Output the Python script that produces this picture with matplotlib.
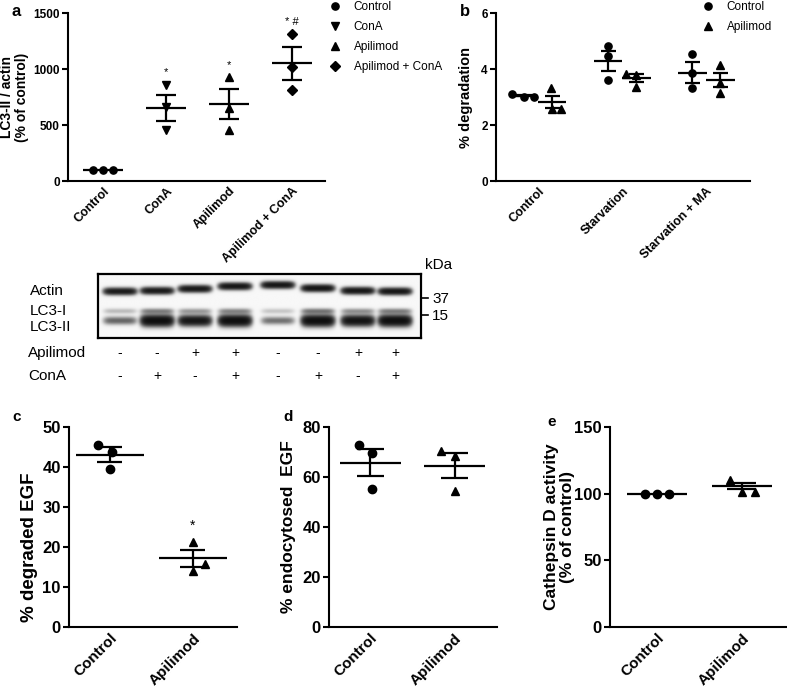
import numpy as np
import matplotlib.pyplot as plt
from matplotlib.lines import Line2D

plt.rcParams['font.family'] = ['Liberation Sans', 'DejaVu Sans']
plt.rcParams['font.weight'] = 'bold'
plt.rcParams['axes.labelweight'] = 'bold'
plt.rcParams['axes.linewidth'] = 1.5
plt.rcParams['ytick.major.width'] = 1.5
plt.rcParams['ytick.major.size'] = 4

W, H = 787, 688

# ---------------- data ----------------
# a: LC3-II / actin (% of control)
a_groups = ['Control', 'ConA', 'Apilimod', 'Apilimod + ConA']
a_points = [[100, 100, 100], [857, 664, 457], [925, 649, 457], [1310, 1020, 812]]
a_mean = [100, 652, 685, 1051]
a_sem = [0, 115, 133, 147]
a_sig = ['', '*', '*', '* #']

# b: % degradation
b_groups = ['Control', 'Starvation', 'Starvation + MA']
b_ctrl_points = [[3.09, 3.01, 3.01], [4.83, 4.48, 3.61], [4.54, 3.85, 3.31]]
b_ctrl_mean = [3.05, 4.28, 3.87]
b_ctrl_sem = [0.03, 0.36, 0.37]
b_api_points = [[3.31, 2.57, 2.57], [3.81, 3.79, 3.37], [4.14, 3.51, 3.13]]
b_api_mean = [2.83, 3.68, 3.60]
b_api_sem = [0.22, 0.15, 0.26]

# c-e: Control vs Apilimod
ce_groups = ['Control', 'Apilimod']
c_points = [[45.6, 43.8, 39.4], [21.25, 15.75, 14.0]]
c_mean = [43.1, 17.2]
c_sem = [1.8, 2.1]
d_points = [[73.0, 69.4, 55.1], [70.3, 68.4, 54.4]]
d_mean = [65.8, 64.5]
d_sem = [5.3, 5.05]
e_points = [[100, 100, 100], [110.3, 101.3, 101.3]]
e_mean = [100, 105.8]
e_sem = [0, 2.3]

# western blot: relative band intensity per lane
lane_pos = [0.068, 0.183, 0.300, 0.424, 0.557, 0.681, 0.805, 0.920]
actin_int = [0.80, 0.80, 0.82, 0.85, 0.85, 0.88, 0.85, 0.85]
actin_row = [0.27, 0.26, 0.23, 0.19, 0.17, 0.22, 0.26, 0.27]
lc3i_int = [0.10, 0.22, 0.16, 0.20, 0.08, 0.25, 0.18, 0.22]
lc3ii_int = [0.32, 1.0, 0.85, 1.0, 0.28, 1.0, 0.90, 1.0]
apilimod_sign = ['-', '-', '+', '+', '-', '-', '+', '+']
cona_sign = ['-', '+', '-', '+', '-', '+', '-', '+']


def box(x0, y0, x1, y1):
    # pixel box -> figure fraction rect
    return [x0 / W, 1 - y1 / H, (x1 - x0) / W, (y1 - y0) / H]


def style(ax, fs, xfs):
    for s in ['top', 'right']:
        ax.spines[s].set_visible(False)
    ax.tick_params(axis='x', length=0, pad=3, labelsize=xfs)
    ax.tick_params(axis='y', labelsize=fs, pad=2)
    plt.setp(ax.get_xticklabels(), rotation=45, ha='right', rotation_mode='anchor')


def draw_group(ax, xc, pts, jit, mean, sem, marker, half_w, cap_w, ms):
    ax.plot(xc + np.array(jit), pts, ls='none', marker=marker, color='k', ms=ms,
            zorder=3, clip_on=False)
    ax.hlines(mean, xc - half_w, xc + half_w, color='k', lw=1.6)
    if sem > 0:
        ax.vlines(xc, mean - sem, mean + sem, color='k', lw=1.6)
        ax.hlines([mean - sem, mean + sem], xc - cap_w, xc + cap_w, color='k', lw=1.6)


fig = plt.figure(figsize=(W / 100, H / 100), dpi=100)

# ---------------- panel a ----------------
ax = fig.add_axes(box(68, 13, 325, 181))
a_markers = ['o', 'v', '^', 'D']
a_jit = [[-0.16, 0, 0.16], [0, 0, 0], [0, 0, 0], [0, 0, 0]]
for i in range(4):
    draw_group(ax, i, a_points[i], a_jit[i], a_mean[i], a_sem[i], a_markers[i],
               0.32, 0.16, 4.6 if a_markers[i] == 'D' else 5.2)
    if a_sig[i]:
        ax.annotate(a_sig[i], (i, max(a_points[i])), xytext=(0, 9), textcoords='offset points',
                    ha='center', va='center', fontsize=8, fontweight='normal')
ax.set_xlim(-0.56, 3.52)
ax.set_ylim(0, 1500)
ax.set_yticks([0, 500, 1000, 1500])
ax.set_xticks(range(4))
ax.set_xticklabels(a_groups)
ax.set_ylabel('LC3-II / actin\n(% of control)', fontsize=10, labelpad=3, linespacing=1.05)
style(ax, 8.5, 9)
handles = [Line2D([], [], ls='none', marker=m, color='k', ms=5.2 if m != 'D' else 4.6)
           for m in a_markers]
ax.legend(handles, a_groups, loc='upper left', bbox_to_anchor=(329 / W, 1 - 1 / H),
          bbox_transform=fig.transFigure, frameon=False, borderpad=0, borderaxespad=0,
          handlelength=1.0, handletextpad=1.1, labelspacing=0.68,
          prop={'size': 8.5, 'weight': 'normal'})
fig.text(12 / W, 1 - 11 / H, 'a', fontsize=12, fontweight='bold', ha='left', va='center')

# ---------------- panel b ----------------
ax = fig.add_axes(box(496, 13, 750, 181))
b_ctrl_jit = [[-0.14, 0, 0.12], [0, 0, 0], [0, 0, 0]]
b_api_jit = [[-0.01, 0, 0.1], [-0.12, 0, 0], [0, 0, 0]]
for i in range(3):
    draw_group(ax, i - 0.167, b_ctrl_points[i], b_ctrl_jit[i], b_ctrl_mean[i], b_ctrl_sem[i],
               'o', 0.17, 0.09, 5.2)
    draw_group(ax, i + 0.167, b_api_points[i], b_api_jit[i], b_api_mean[i], b_api_sem[i],
               '^', 0.17, 0.09, 5.2)
ax.set_xlim(-0.5, 2.52)
ax.set_ylim(0, 6)
ax.set_yticks([0, 2, 4, 6])
ax.set_xticks(range(3))
ax.set_xticklabels(b_groups)
ax.set_ylabel('% degradation', fontsize=10.5, labelpad=6)
style(ax, 8.5, 9)
handles = [Line2D([], [], ls='none', marker=m, color='k', ms=5.2) for m in ['o', '^']]
ax.legend(handles, ['Control', 'Apilimod'], loc='upper left', bbox_to_anchor=(702 / W, 1 - 1 / H),
          bbox_transform=fig.transFigure, frameon=False, borderpad=0, borderaxespad=0,
          handlelength=1.0, handletextpad=1.1, labelspacing=0.68,
          prop={'size': 8.5, 'weight': 'normal'})
fig.text(460 / W, 1 - 11 / H, 'b', fontsize=12, fontweight='bold', ha='left', va='center')

# ---------------- western blot ----------------
ax = fig.add_axes(box(98, 274, 421, 338))
yy, xx = np.mgrid[0:1:200j, 0:1:900j]
dark = np.zeros_like(xx)
for i, xc in enumerate(lane_pos):
    prof = np.exp(-((xx - xc) / 0.05) ** 6)
    dark += prof * (actin_int[i] * np.exp(-((yy - actin_row[i]) / 0.05) ** 2)
                    + lc3i_int[i] * np.exp(-((yy - 0.58) / 0.04) ** 2)
                    + lc3ii_int[i] * np.exp(-((yy - 0.73) / (0.045 + 0.035 * lc3ii_int[i])) ** 2))
img = 0.97 * np.exp(-2.8 * dark)
ax.imshow(img, cmap='gray', vmin=0, vmax=1, extent=[0, 1, 0, 1], aspect='auto',
          origin='upper', interpolation='bilinear')
ax.set_xlim(0, 1)
ax.set_ylim(0, 1)
ax.set_xticks([])
ax.set_yticks([])
for s in ax.spines.values():
    s.set_linewidth(1.6)
bfs = 11
for lab, y in [('Actin', 0.73), ('LC3-I', 0.42), ('LC3-II', 0.17)]:
    ax.text(-0.21, y, lab, fontsize=bfs, fontweight='normal', ha='left', va='center')
ax.text(1.012, 1.14, 'kDa', fontsize=bfs, fontweight='normal', ha='left', va='center')
for lab, y in [('37', 0.625), ('15', 0.36)]:
    ax.plot([1.0, 1.022], [y, y], color='k', lw=1.2, clip_on=False)
    ax.text(1.034, y - 0.02, lab, fontsize=bfs, fontweight='normal', ha='left', va='center')
ax.text(-0.217, -0.23, 'Apilimod', fontsize=bfs, fontweight='normal', ha='left', va='center')
ax.text(-0.217, -0.59, 'ConA', fontsize=bfs, fontweight='normal', ha='left', va='center')
for i, xc in enumerate(lane_pos):
    ax.text(xc, -0.23, apilimod_sign[i], fontsize=10, fontweight='normal', ha='center', va='center')
    ax.text(xc, -0.59, cona_sign[i], fontsize=10, fontweight='normal', ha='center', va='center')

# ---------------- panels c, d, e ----------------
panels = [
    ('c', box(69, 427, 237, 627), c_points, c_mean, c_sem, 50, 10, '% degraded EGF',
     [[-0.14, 0.03, 0], [0, 0.15, 0]], (-0.49, 1.53), 0.41, 0.15, (12, 417), 13.5,
     (-0.185, 0.4)),
    ('d', box(329, 427, 497, 627), d_points, d_mean, d_sem, 80, 20, '% endocytosed  EGF',
     [[-0.13, 0.02, 0.02], [-0.16, 0, 0]], (-0.49, 1.5), 0.36, 0.16, (283, 417), 12.5,
     (-0.196, 0.5)),
    ('e', box(610, 427, 787, 627), e_points, e_mean, e_sem, 150, 50,
     'Cathepsin D activity\n(% of control)',
     [[-0.14, 0, 0.14], [-0.14, 0, 0.15]], (-0.55, 1.53), 0.35, 0.17, (547, 422), 12.5,
     (-0.198, 0.5)),
]
for letter, rect, pts, mean, sem, ymax, step, ylab, jit, xl, hw, cw, lpos, lfs, lc in panels:
    ax = fig.add_axes(rect)
    draw_group(ax, 0, pts[0], jit[0], mean[0], sem[0], 'o', hw, cw, 6)
    draw_group(ax, 1, pts[1], jit[1], mean[1], sem[1], '^', hw, cw, 6)
    ax.set_xlim(*xl)
    ax.set_ylim(0, ymax)
    ax.set_yticks(np.arange(0, ymax + 1, step))
    ax.set_xticks([0, 1])
    ax.set_xticklabels(ce_groups)
    ax.set_ylabel(ylab, fontsize=lfs, linespacing=1.05)
    ax.yaxis.set_label_coords(*lc)
    style(ax, 12, 11)
    fig.text(lpos[0] / W, 1 - lpos[1] / H, letter, fontsize=11, fontweight='bold',
             ha='left', va='center')
    if letter == 'c':
        ax.annotate('*', (1, max(pts[1])), xytext=(0, 12), textcoords='offset points',
                    ha='center', va='center', fontsize=10, fontweight='normal')

plt.savefig('out.png', dpi=100)
